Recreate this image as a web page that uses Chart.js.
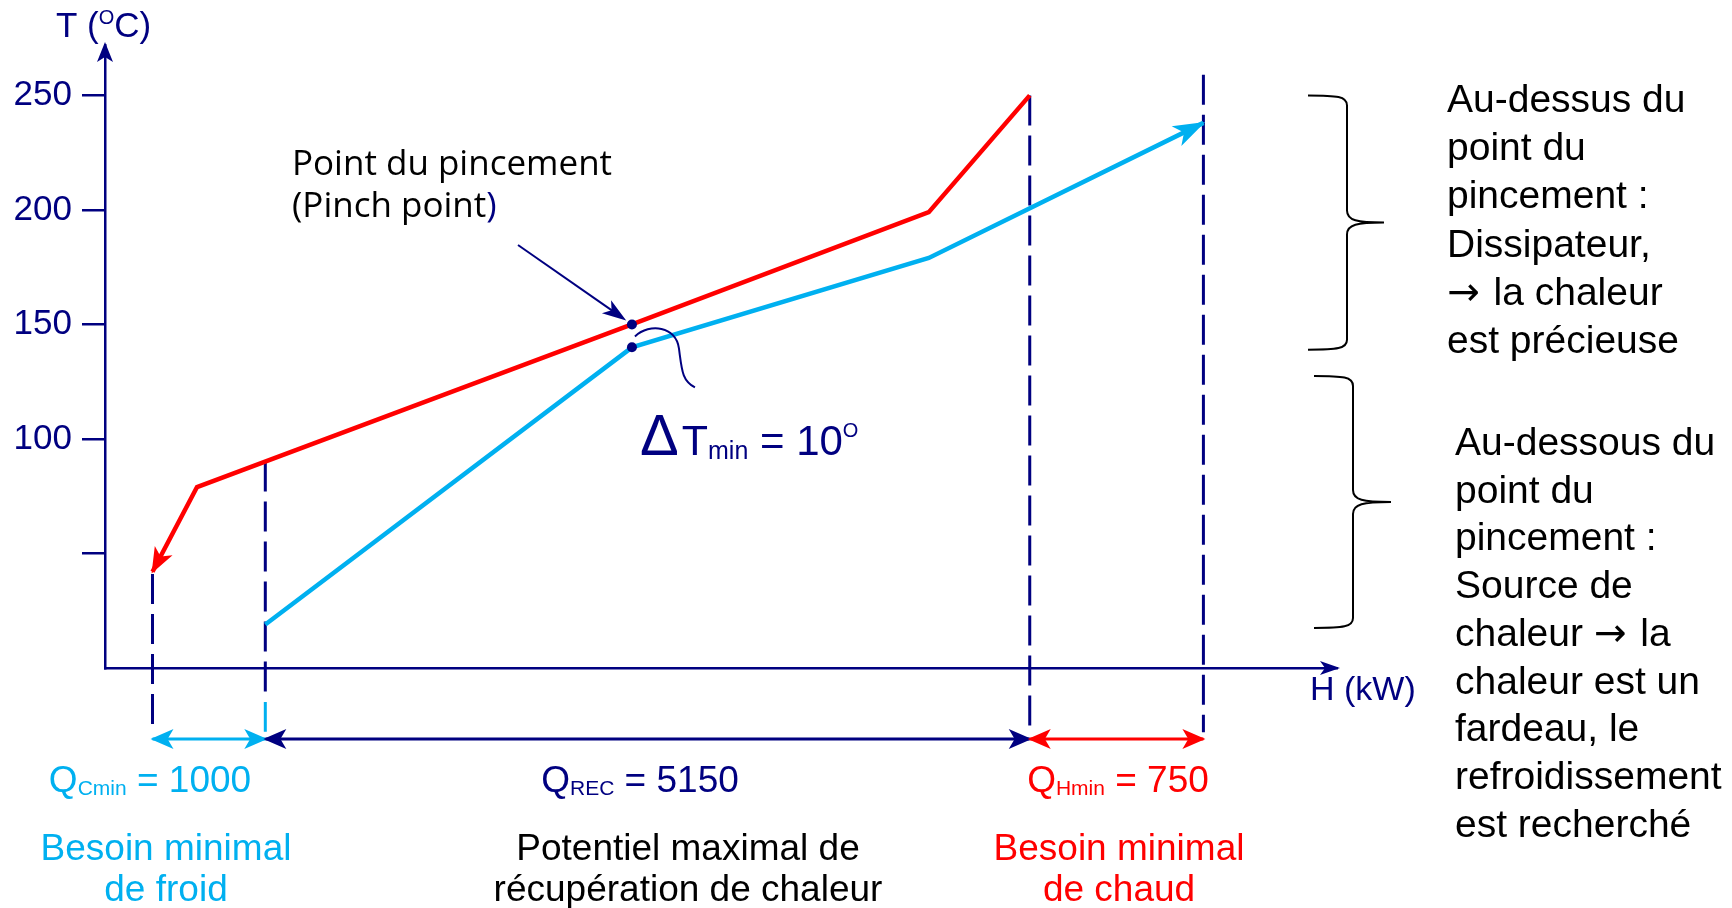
<!DOCTYPE html>
<html lang="fr">
<head>
<meta charset="utf-8">
<title>Courbes composites et point de pincement</title>
<script src="https://cdn.jsdelivr.net/npm/chart.js@4/dist/chart.umd.min.js"></script>
<style>
  html, body { margin: 0; padding: 0; background: #ffffff; }
  #c { display: block; }
</style>
</head>
<body>
<canvas id="c" width="1732" height="908"></canvas>
<script>
// Hot composite curve: enthalpy H (kW, schematic) and temperature T (°C)
const hotH = [320, 620, 3550, 5550, 6230];
const hotT = [42, 79, 150, 199, 250];

// Cold composite curve
const coldH = [1080, 3550, 5550, 7400];
const coldT = [19, 140, 179, 238];

// Pinch point on both curves
const pinchH = [3550, 3550];
const pinchT = [150, 140];
const deltaTmin = 10;

// Temperature axis ticks
const tempTicks = [50, 100, 150, 200, 250];
const tempTickLabels = ['', '100', '150', '200', '250'];

// Energy targets (kW) and the H range each one spans
const targetSubs = ['Cmin', 'REC', 'Hmin'];
const targetValues = [1000, 5150, 750];
const targetFrom = [320, 1080, 6230];
const targetTo = [1080, 6230, 7400];

// Vertical guides
const guideH = [320, 1080, 6230, 7400];
const guideTopExtra = 259;

const NAVY = '#000080';
const SKY = '#00B0F0';
const RED = '#FF0000';
const ARIAL = '"Liberation Sans", Arial, sans-serif';
const SEGOE = '"Open Sans", "Noto Sans", sans-serif';
const DEJAVU = '"DejaVu Sans", sans-serif';

const dimLevel = -31;     // level of the dimension arrows on the T scale
const guideBottom = -28;

const pts = (hs, ts) => hs.map((h, i) => ({ x: h, y: ts[i] }));
function hotAt(h) {
  for (let i = 0; i < hotH.length - 1; i++) {
    if (h >= hotH[i] && h <= hotH[i + 1]) {
      const f = (h - hotH[i]) / (hotH[i + 1] - hotH[i]);
      return hotT[i] + f * (hotT[i + 1] - hotT[i]);
    }
  }
  return hotT[hotT.length - 1];
}
const guideTop = [hotT[0] - 1, hotAt(guideH[1]), hotT[hotT.length - 1], guideTopExtra];
const targetColors = [SKY, NAVY, RED];

const datasets = [
  { label: 'Pincement', data: pts(pinchH, pinchT), showLine: false, pointRadius: 5,
    pointBackgroundColor: NAVY, pointBorderWidth: 0, order: 0 },
  { label: 'Courbe chaude', data: pts(hotH, hotT), showLine: true, borderColor: RED,
    borderWidth: 4.5, pointRadius: 0, order: 1, clip: false },
  { label: 'Courbe froide', data: pts(coldH, coldT), showLine: true, borderColor: SKY,
    borderWidth: 4.5, pointRadius: 0, order: 1, clip: false }
];
guideH.forEach((h, i) => {
  const bottom = i === 1 ? -13 : guideBottom;
  datasets.push({ label: 'guide' + i, data: [{ x: h, y: guideTop[i] }, { x: h, y: bottom }],
    showLine: true, borderColor: NAVY, borderWidth: 3, borderDash: [30, 10],
    pointRadius: 0, order: 3, clip: false });
});
datasets.push({ label: 'guide1b', data: [{ x: guideH[1], y: -14.8 }, { x: guideH[1], y: -27.8 }],
  showLine: true, borderColor: SKY, borderWidth: 3, pointRadius: 0, order: 3, clip: false });
targetFrom.forEach((h, i) => {
  datasets.push({ label: 'Q' + targetSubs[i], data: [{ x: h, y: dimLevel }, { x: targetTo[i], y: dimLevel }],
    showLine: true, borderColor: targetColors[i], borderWidth: 3, pointRadius: 0, order: 2, clip: false });
});

// Filled "stealth" arrow head with its tip at (tx, ty), pointing away from (fx, fy)
function arrowHead(ctx, tx, ty, fx, fy, len, half, color) {
  const a = Math.atan2(ty - fy, tx - fx);
  ctx.save();
  ctx.translate(tx, ty);
  ctx.rotate(a);
  ctx.beginPath();
  ctx.moveTo(2, 0);
  ctx.lineTo(-len, -half);
  ctx.lineTo(-len * 0.72, 0);
  ctx.lineTo(-len, half);
  ctx.closePath();
  ctx.fillStyle = color;
  ctx.fill();
  ctx.restore();
}

// Text made of several runs (sub/superscripts, symbol glyphs)
function textRuns(ctx, x, y, parts, align) {
  let total = 0;
  parts.forEach(p => {
    ctx.font = `${p.size}px ${p.family || ARIAL}`;
    p.w = ctx.measureText(p.text).width + (p.gap || 0);
    total += p.w;
  });
  let cx = align === 'center' ? x - total / 2 : x;
  parts.forEach(p => {
    ctx.font = `${p.size}px ${p.family || ARIAL}`;
    ctx.fillStyle = p.color;
    ctx.fillText(p.text, cx + (p.gap || 0), y + (p.dy || 0));
    cx += p.w;
  });
}

// A note line; the arrow sign is drawn with a font that has a full-size glyph
function noteLine(ctx, x, y, t) {
  const parts = [];
  t.split(/(→)/).forEach(s => {
    if (!s) return;
    if (s === '→') parts.push({ text: s, size: 39, family: DEJAVU, color: '#000000' });
    else parts.push({ text: s, size: 39, color: '#000000', gap: parts.length ? 3 : 0 });
  });
  textRuns(ctx, x, y, parts);
}

function brace(ctx, xL, xV, xTip, yT, yB) {
  const yM = (yT + yB) / 2;
  ctx.beginPath();
  ctx.moveTo(xL, yT);
  ctx.bezierCurveTo(xL + (xV - xL) * 0.75, yT, xV, yT + 1, xV, yT + 10);
  ctx.lineTo(xV, yM - 12);
  ctx.bezierCurveTo(xV, yM - 2, xV + 10, yM, xTip, yM);
  ctx.bezierCurveTo(xV + 10, yM, xV, yM + 2, xV, yM + 12);
  ctx.lineTo(xV, yB - 10);
  ctx.bezierCurveTo(xV, yB - 1, xL + (xV - xL) * 0.75, yB, xL, yB);
  ctx.strokeStyle = '#000000';
  ctx.lineWidth = 2;
  ctx.stroke();
}

const annotations = {
  id: 'diagramAnnotations',
  afterDraw(chart) {
    const { ctx, chartArea, scales: { x, y } } = chart;
    const px = h => x.getPixelForValue(h);
    const py = t => y.getPixelForValue(t);
    ctx.save();
    ctx.textBaseline = 'alphabetic';
    ctx.textAlign = 'left';

    // axis arrow heads
    arrowHead(ctx, chartArea.left, chartArea.top - 1, chartArea.left, chartArea.top + 50, 18, 8, NAVY);
    arrowHead(ctx, chartArea.right + 1, py(0), chartArea.right - 50, py(0), 18, 7, NAVY);

    // curve arrow heads
    arrowHead(ctx, px(hotH[0]), py(hotT[0]), px(hotH[1]), py(hotT[1]), 24, 10, RED);
    const n = coldH.length;
    arrowHead(ctx, px(coldH[n - 1]), py(coldT[n - 1]), px(coldH[n - 2]), py(coldT[n - 2]), 30, 11, SKY);

    // dimension arrow heads
    targetFrom.forEach((h, i) => {
      const yy = py(dimLevel);
      arrowHead(ctx, px(h), yy, px(targetTo[i]), yy, 21, 10, targetColors[i]);
      arrowHead(ctx, px(targetTo[i]), yy, px(h), yy, 21, 10, targetColors[i]);
    });

    // pointer to the pinch point
    const pinX = px(pinchH[0]), pinY = py(pinchT[0]);
    const sx = 518, sy = 245;
    const d = Math.hypot(pinX - sx, pinY - sy);
    const tipX = pinX - (pinX - sx) / d * 9, tipY = pinY - (pinY - sy) / d * 9;
    ctx.beginPath();
    ctx.moveTo(sx, sy);
    ctx.lineTo(tipX - (pinX - sx) / d * 12, tipY - (pinY - sy) / d * 12);
    ctx.strokeStyle = NAVY;
    ctx.lineWidth = 2;
    ctx.stroke();
    arrowHead(ctx, tipX, tipY, sx, sy, 22, 8, NAVY);

    // wavy connector towards the ΔTmin label
    ctx.beginPath();
    ctx.moveTo(pinX + 3, pinY + 12);
    ctx.bezierCurveTo(pinX + 18, pinY - 2, pinX + 44, pinY + 2, pinX + 47, pinY + 24);
    ctx.bezierCurveTo(pinX + 50, pinY + 46, pinX + 50, pinY + 56, pinX + 63, pinY + 63);
    ctx.strokeStyle = NAVY;
    ctx.lineWidth = 2;
    ctx.stroke();

    // axis titles
    textRuns(ctx, 56, 37, [
      { text: 'T (', size: 35, color: NAVY },
      { text: 'O', size: 20, dy: -13, color: NAVY },
      { text: 'C)', size: 35, color: NAVY }
    ]);
    textRuns(ctx, 1310, 700, [{ text: 'H (kW)', size: 34, color: NAVY }]);

    // pinch label
    textRuns(ctx, 292, 175, [{ text: 'Point du pincement', size: 35, family: SEGOE, color: '#000000' }]);
    textRuns(ctx, 292, 217, [
      { text: '(Pinch point', size: 35, family: SEGOE, color: '#000000' },
      { text: ')', size: 35, family: SEGOE, color: NAVY }
    ]);

    // ΔTmin label
    textRuns(ctx, 640, 455, [
      { text: 'Δ', size: 58, color: NAVY },
      { text: 'T', size: 43, gap: 3, color: NAVY },
      { text: 'min', size: 25, dy: 4, color: NAVY },
      { text: ' = ' + deltaTmin, size: 42, color: NAVY },
      { text: 'O', size: 20, dy: -18, color: NAVY }
    ]);

    // energy targets
    const qCenters = [150, 640, 1118];
    targetSubs.forEach((s, i) => {
      textRuns(ctx, qCenters[i], 792, [
        { text: 'Q', size: 37, color: targetColors[i] },
        { text: s, size: 21, dy: 3, color: targetColors[i] },
        { text: ' = ' + targetValues[i], size: 37, color: targetColors[i] }
      ], 'center');
    });

    const captions = [
      { c: 166, color: SKY, lines: ['Besoin minimal', 'de froid'] },
      { c: 688, color: '#000000', lines: ['Potentiel maximal de', 'récupération de chaleur'] },
      { c: 1119, color: RED, lines: ['Besoin minimal', 'de chaud'] }
    ];
    captions.forEach(cap => {
      cap.lines.forEach((t, k) => {
        textRuns(ctx, cap.c, 860 + k * 41, [{ text: t, size: 37, color: cap.color }], 'center');
      });
    });

    // braces and side notes
    brace(ctx, 1308, 1347, 1384, py(250), py(139));
    brace(ctx, 1314, 1353, 1391, py(127.5), py(17.5));
    const above = ['Au-dessus du', 'point du', 'pincement :', 'Dissipateur,', '→ la chaleur', 'est précieuse'];
    above.forEach((t, k) => noteLine(ctx, 1447, 112 + k * 48.2, t));
    const below = ['Au-dessous du', 'point du', 'pincement :', 'Source de', 'chaleur → la',
      'chaleur est un', 'fardeau, le', 'refroidissement', 'est recherché'];
    below.forEach((t, k) => noteLine(ctx, 1455, 455 + k * 47.7, t));

    ctx.restore();
  }
};

new Chart(document.getElementById('c').getContext('2d'), {
  type: 'scatter',
  data: { datasets },
  options: {
    responsive: false,
    animation: false,
    devicePixelRatio: 1,
    events: [],
    layout: { padding: { left: 0, top: 45, right: 395, bottom: 240 } },
    plugins: { legend: { display: false }, tooltip: { enabled: false } },
    scales: {
      x: {
        type: 'linear', min: 0, max: 8300,
        grid: { display: false },
        ticks: { display: false },
        border: { color: NAVY, width: 2.5 },
        afterFit(scale) { scale.height = 0; }
      },
      y: {
        type: 'linear', min: 0, max: 272,
        afterBuildTicks(scale) { scale.ticks = tempTicks.map(v => ({ value: v })); },
        ticks: {
          color: NAVY,
          padding: 10,
          font: { family: ARIAL, size: 35 },
          callback(v) { const i = tempTicks.indexOf(v); return i >= 0 ? tempTickLabels[i] : ''; }
        },
        grid: { drawOnChartArea: false, drawTicks: true, tickLength: 23, color: NAVY, lineWidth: 2.5 },
        border: { color: NAVY, width: 2.5 },
        afterFit(scale) { scale.width = 105; }
      }
    }
  },
  plugins: [annotations]
});
</script>
</body>
</html>
